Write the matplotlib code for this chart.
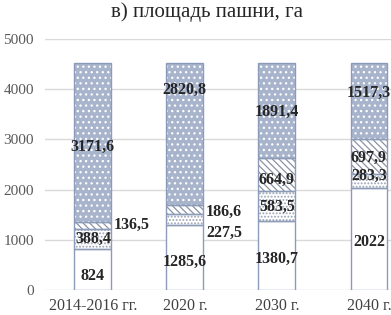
import matplotlib
matplotlib.use("Agg")
import matplotlib.pyplot as plt
import numpy as np

categories = ["2014-2016 гг.", "2020 г.", "2030 г.", "2040 г."]
seg1 = [824, 1285.6, 1380.7, 2022]
seg2 = [388.4, 227.5, 583.5, 283.3]
seg3 = [136.5, 186.6, 664.9, 697.9]
seg4 = [3171.6, 2820.8, 1891.4, 1517.3]
yticks = [0, 1000, 2000, 3000, 4000, 5000]
title = "в) площадь пашни, га"

plt.rcParams['font.family'] = ['Liberation Serif', 'DejaVu Serif']
plt.rcParams['hatch.linewidth'] = 0.9

fig = plt.figure(figsize=(3.91, 3.15), dpi=100)
ax = fig.add_axes([45/391, 25/315, 1 - 45/391, (290-39)/315])

x = np.arange(len(categories))
w = 0.4
edge = '#8B9BB8'
series = [seg1, seg2, seg3, seg4]
fills = ['white', 'white', 'white', '#A8B4CC']
hatches = [None, '.....', '\\\\\\\\\\', '...']
hcols = [None, '#9AA3B5', '#8A93A5', 'white']

bottom = np.zeros(len(categories))
for vals, fc, h, hc in zip(series, fills, hatches, hcols):
    vals = np.array(vals)
    ax.bar(x, vals, w, bottom=bottom, color=fc, edgecolor='none', linewidth=0, zorder=2)
    if h:
        ax.bar(x, vals, w, bottom=bottom, color='none', edgecolor=hc, hatch=h, linewidth=0, zorder=3)
    ax.bar(x, vals, w, bottom=bottom, color='none', edgecolor=edge, linewidth=1.0, zorder=4)
    bottom += vals

fmt = lambda v: (f"{v:g}").replace('.', ',')
bottom = np.zeros(len(categories))
offsets = {
    (0, 0): (0, -7), (0, 1): (0, 0), (0, 2): ('out', 1), (0, 3): (0, -4),
    (1, 0): (0, -4), (1, 1): ('out', -13), (1, 2): ('out', -3), (1, 3): (0, 44),
    (2, 0): (0, -4), (2, 1): (0, -1), (2, 2): (0, -5), (2, 3): (0, -1),
    (3, 0): (0, -3), (3, 1): (0, 6), (3, 2): (0, -1), (3, 3): (0, 8),
}
for j, vals in enumerate(series):
    for i, v in enumerate(vals):
        yc = bottom[i] + v / 2
        dx, dy = offsets[(i, j)]
        if dx == 'out':
            ax.annotate(fmt(v), (x[i] + w/2, yc), xytext=(2, dy * 0.72), textcoords='offset points',
                        ha='left', va='center', fontsize=11.5, fontweight='bold', color='#262626', zorder=5)
        else:
            ax.annotate(fmt(v), (x[i], yc), xytext=(0, dy * 0.72), textcoords='offset points',
                        ha='center', va='center', fontsize=11.5, fontweight='bold', color='#262626', zorder=5)
    bottom += np.array(vals)

ax.set_ylim(0, 5000)
ax.set_xlim(-0.52, 3.24)
ax.set_yticks(yticks)
ax.set_xticks(x)
ax.set_xticklabels(categories)
ax.yaxis.grid(True, color='#D9D9D9', linewidth=1.0, zorder=0)
ax.set_axisbelow(True)
for s in ax.spines.values():
    s.set_visible(False)
ax.tick_params(axis='x', length=0, labelsize=11.5, colors='#404040', pad=6)
ax.tick_params(axis='y', length=0, labelsize=11, colors='#595959', pad=8)
fig.text(0.53, 0.96, title, ha='center', va='center', fontsize=15, color='#262626')

fig.savefig("out.png", dpi=100)
